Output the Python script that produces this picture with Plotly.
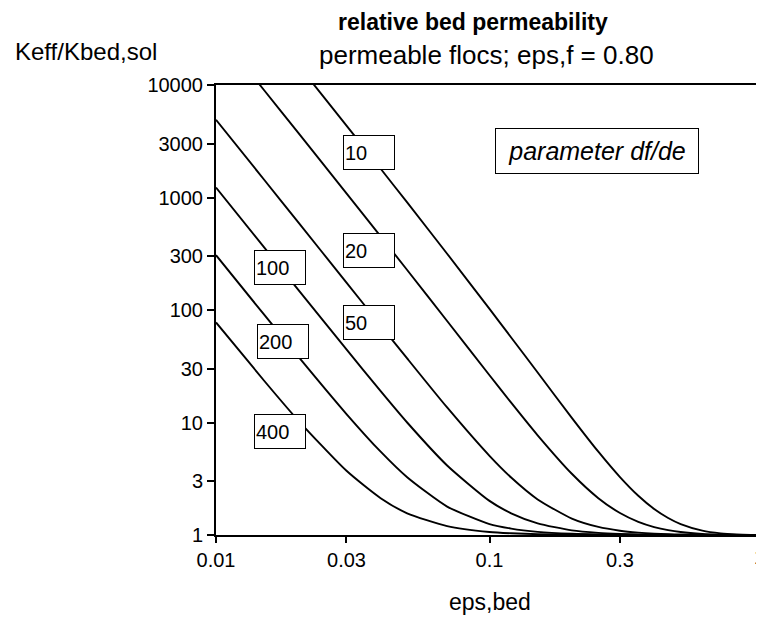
import plotly.graph_objects as go

# eps,bed values
eps_bed = [0.01, 0.015, 0.02, 0.03, 0.04, 0.05, 0.07, 0.1, 0.12, 0.15, 0.2, 0.25,
           0.3, 0.35, 0.4, 0.45, 0.5, 0.6, 0.7, 0.8, 0.9, 1.0]

# Keff/Kbed,sol for each df/de parameter
k_10 = [122513, 35935, 15007, 4357, 1801, 903.5, 316.2, 102.3, 57.0, 27.8, 11.0, 5.50,
        3.27, 2.23, 1.70, 1.415, 1.25, 1.093, 1.033, 1.010, 1.002, 1.0]
k_20 = [30629, 8985, 3753, 1090, 451, 226.6, 79.8, 26.3, 15.0, 7.69, 3.5, 2.125,
        1.567, 1.308, 1.176, 1.104, 1.0625, 1.023, 1.008, 1.002, 1.0004, 1.0]
k_50 = [4901, 1438, 601, 175.2, 73.0, 37.1, 13.6, 5.05, 3.24, 2.07, 1.40, 1.18,
        1.091, 1.049, 1.028, 1.017, 1.01, 1.004, 1.001, 1.0, 1.0, 1.0]
k_100 = [1226, 360.3, 151.1, 44.6, 19.0, 10.0, 4.15, 2.01, 1.56, 1.27, 1.10, 1.045,
         1.023, 1.012, 1.007, 1.004, 1.0025, 1.001, 1.0, 1.0, 1.0, 1.0]
k_200 = [307.3, 90.8, 38.5, 11.89, 5.5, 3.26, 1.79, 1.25, 1.14, 1.067, 1.025, 1.011,
         1.006, 1.003, 1.002, 1.001, 1.0, 1.0, 1.0, 1.0, 1.0, 1.0]
k_400 = [77.6, 23.5, 10.4, 3.72, 2.125, 1.56, 1.20, 1.063, 1.035, 1.017, 1.006, 1.003,
         1.001, 1.0, 1.0, 1.0, 1.0, 1.0, 1.0, 1.0, 1.0, 1.0]

curves = [k_10, k_20, k_50, k_100, k_200, k_400]

# label text and (log10 x, log10 y) of box centres
labels = ["10", "20", "50", "100", "200", "400"]
label_x = [-1.442, -1.442, -1.442, -1.766, -1.755, -1.766]
label_y = [3.396, 2.533, 1.893, 2.382, 1.724, 0.916]

x_ticks = [0.01, 0.03, 0.1, 0.3, 1]
x_ticktext = ["0.01", "0.03", "0.1", "0.3", ""]  # "1" is drawn as an annotation
y_ticks = [1, 3, 10, 30, 100, 300, 1000, 3000, 10000]
y_ticktext = ["1", "3", "10", "30", "100", "300", "1000", "3000", "10000"]

FONT = "Liberation Sans, Arial, sans-serif"

fig = go.Figure()
for ys in curves:
    fig.add_trace(go.Scatter(
        x=eps_bed, y=ys, mode="lines",
        line={"color": "black", "width": 1.9, "shape": "spline", "smoothing": 0.6},
        hoverinfo="skip",
    ))

for txt, lx, ly in zip(labels, label_x, label_y):
    fig.add_annotation(
        x=lx, y=ly, xref="x", yref="y", text=txt, showarrow=False,
        font={"size": 20, "color": "black", "family": FONT},
        bgcolor="white", bordercolor="black", borderwidth=1,
        width=48, height=31, align="left",
    )

fig.add_annotation(
    x=-0.606, y=3.413, xref="x", yref="y", text="<i>parameter df/de</i>",
    showarrow=False, font={"size": 25, "color": "black", "family": FONT},
    bgcolor="white", bordercolor="black", borderwidth=1, width=200, height=42,
)

# titles and axis captions, placed in paper units
fig.add_annotation(x=0.47, y=1.0, xref="paper", yref="paper", yanchor="bottom",
                   yshift=48, text="<b>relative bed permeability</b>", showarrow=False,
                   font={"size": 23})
fig.add_annotation(x=0.495, y=1.0, xref="paper", yref="paper", yanchor="bottom",
                   yshift=13, text="permeable flocs; eps,f = 0.80", showarrow=False,
                   font={"size": 26})
fig.add_annotation(x=-0.372, y=1.0, xref="paper", yref="paper", xanchor="left",
                   yanchor="bottom", yshift=18, text="Keff/Kbed,sol", showarrow=False,
                   font={"size": 24})
fig.add_annotation(x=0.5, y=0, xref="paper", yref="paper", yanchor="top",
                   yshift=-52, text="eps,bed", showarrow=False, font={"size": 23})
fig.add_annotation(x=1.0, y=0, xref="paper", yref="paper", xanchor="right", yanchor="top",
                   xshift=4, yshift=-9, text="1", showarrow=False, font={"size": 20})

fig.update_layout(
    width=764,
    height=619,
    showlegend=False,
    margin={"l": 208, "r": 9, "t": 77, "b": 92, "autoexpand": False},
    plot_bgcolor="white",
    paper_bgcolor="white",
    font={"family": FONT, "size": 20, "color": "black"},
)
fig.update_xaxes(
    type="log", range=[-2, 0], tickvals=x_ticks, ticktext=x_ticktext,
    showgrid=False, zeroline=False, showline=True, linecolor="black", linewidth=2,
    mirror=True, ticks="outside", ticklen=6, tickcolor="black", tickwidth=1.5,
    automargin=False, tickfont={"size": 20},
)
fig.update_yaxes(
    type="log", range=[0, 4], tickvals=y_ticks, ticktext=y_ticktext,
    showgrid=False, zeroline=False, showline=True, linecolor="black", linewidth=2,
    mirror=True, ticks="outside", ticklen=7, tickcolor="black", tickwidth=1.5,
    automargin=False, tickfont={"size": 20},
)

fig.write_html("out.html")
